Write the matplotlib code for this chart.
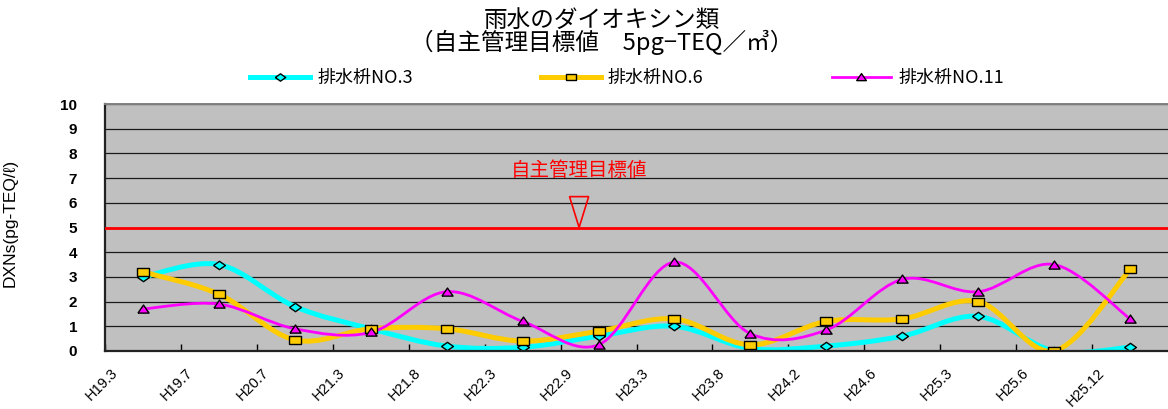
import numpy as np
import matplotlib

matplotlib.use("Agg")
import matplotlib.pyplot as plt
from matplotlib.path import Path
from matplotlib.patches import PathPatch, Polygon
from matplotlib.lines import Line2D
from matplotlib.transforms import ScaledTranslation, blended_transform_factory

plt.rcParams["font.family"] = ["Noto Sans CJK JP", "DejaVu Sans"]

# 採水時期（和暦）
periods = ["H19.3", "H19.7", "H20.7", "H21.3", "H21.8", "H22.3", "H22.9",
           "H23.3", "H23.8", "H24.2", "H24.6", "H25.3", "H25.6", "H25.12"]

# ダイオキシン類濃度 (pg-TEQ/ℓ)
no3 = [3.0, 3.5, 1.8, 0.9, 0.2, 0.15, 0.6, 1.0, 0.1, 0.2, 0.6, 1.4, 0.0, 0.15]
no6 = [3.2, 2.3, 0.45, 0.9, 0.9, 0.4, 0.8, 1.3, 0.25, 1.2, 1.3, 2.0, 0.0, 3.3]
no11 = [1.7, 1.9, 0.9, 0.75, 2.4, 1.2, 0.25, 3.6, 0.7, 0.85, 2.9, 2.4, 3.5, 1.3]

target = 5.0  # 自主管理目標値

series_names = ["排水枡NO.3", "排水枡NO.6", "排水枡NO.11"]
series_vals = [no3, no6, no11]
line_colors = ["#00FFFF", "#FFCC00", "#FF00FF"]
line_widths = [3.6, 3.6, 2.0]

# 横長の図形マーカー
m_diamond = [(-1.2, 0.0), (0.0, 0.85), (1.2, 0.0), (0.0, -0.85), (-1.2, 0.0)]
m_rect = [(-1.4, -0.95), (1.4, -0.95), (1.4, 0.95), (-1.4, 0.95), (-1.4, -0.95)]
m_tri = [(-1.0, -0.65), (1.0, -0.65), (0.0, 0.8), (-1.0, -0.65)]
markers = [m_diamond, m_rect, m_tri]
marker_sizes = [8.5, 8.0, 8.0]


def smooth_path(x, y):
    """Excel風の平滑線（3次ベジェ、張力1/6）"""
    pts = np.column_stack([x, y]).astype(float)
    n = len(pts)
    verts = [pts[0]]
    codes = [Path.MOVETO]
    for i in range(n - 1):
        p0 = pts[max(i - 1, 0)]
        p1 = pts[i]
        p2 = pts[i + 1]
        p3 = pts[min(i + 2, n - 1)]
        c1 = p1 + (p2 - p0) / 6.0
        c2 = p2 - (p3 - p1) / 6.0
        verts += [c1, c2, p2]
        codes += [Path.CURVE4] * 3
    return Path(verts, codes)


fig = plt.figure(figsize=(11.68, 4.09), dpi=100)
ax = fig.add_axes([105 / 1168, 1 - 351 / 409, 1063 / 1168, 247 / 409])
ax.set_facecolor("#C0C0C0")

x = np.arange(len(periods)) + 0.5

for vals, col, lw, mk, ms in zip(series_vals, line_colors, line_widths,
                                 markers, marker_sizes):
    patch = PathPatch(smooth_path(x, vals), facecolor="none", edgecolor=col,
                      lw=lw, transform=ax.transData, capstyle="round",
                      joinstyle="round")
    ax.add_patch(patch)
    ax.plot(x, vals, linestyle="none", marker=mk, markersize=ms,
            markerfacecolor=col, markeredgecolor="black", markeredgewidth=1.0)

# 目標値ライン
ax.axhline(target, color="#FF0000", lw=2.0, zorder=3)

# 目標値の注記
trans = blended_transform_factory(ax.transAxes, ax.transData)
ax.add_patch(Polygon([(0.437, target + 1.25), (0.455, target + 1.25), (0.446, target)],
                     closed=True, fill=False, edgecolor="#FF0000", lw=1.2,
                     transform=trans, zorder=4))
ax.text(0.446, target + 2.3, "自主管理目標値", transform=trans, color="#FF0000",
        fontsize=14, ha="center", va="center")

ax.set_xlim(0, len(periods))
ax.set_ylim(0, 10)
ax.set_yticks(np.arange(0, 11, 1))
ax.grid(axis="y", color="#1a1a1a", lw=0.9)
ax.set_axisbelow(True)

ax.set_xticks(np.arange(len(periods)))
ax.tick_params(axis="x", direction="in", length=5, width=1, pad=14)
ax.tick_params(axis="y", direction="in", length=0, pad=20)
ax.set_xticklabels(periods, rotation=45, ha="right", va="center",
                   rotation_mode="anchor", family="Liberation Sans", fontsize=10.5)
# ラベル末尾を目盛りの少し右へずらす
for lab in ax.get_xticklabels():
    lab.set_transform(lab.get_transform() + ScaledTranslation(0.10, 0, fig.dpi_scale_trans))
for lab in ax.get_yticklabels():
    lab.set_fontfamily("Liberation Sans")
    lab.set_fontweight("bold")
    lab.set_fontsize(11)

ax.set_ylabel("DXNs(pg-TEQ/ℓ)", family="Liberation Sans", fontsize=12.5)
ax.yaxis.set_label_coords(-0.082, 0.52)

for side in ["left", "bottom"]:
    ax.spines[side].set_color("#222222")
    ax.spines[side].set_linewidth(1.6)
ax.spines["top"].set_color("#808080")
ax.spines["top"].set_linewidth(1.4)
ax.spines["right"].set_visible(False)

# タイトル
fig.text(0.515, 1 - 20 / 409, "雨水のダイオキシン類", ha="center", va="center",
         fontsize=17)
fig.text(0.515, 1 - 42 / 409, "（自主管理目標値　5pg−TEQ／㎥）", ha="center",
         va="center", fontsize=17)

# 凡例
handles = [Line2D([0], [0], color=c, lw=lw, marker=mk, markersize=ms - 1,
                  markerfacecolor=c, markeredgecolor="black", markeredgewidth=1.0)
           for c, lw, mk, ms in zip(line_colors, line_widths, markers, marker_sizes)]
fig.legend(handles, series_names, loc="center", bbox_to_anchor=(0.537, 1 - 78 / 409),
           ncol=3, frameon=False, fontsize=13, handlelength=3.3, handletextpad=0.4,
           columnspacing=7.1)

fig.savefig("out.png", dpi=100, facecolor="white")
